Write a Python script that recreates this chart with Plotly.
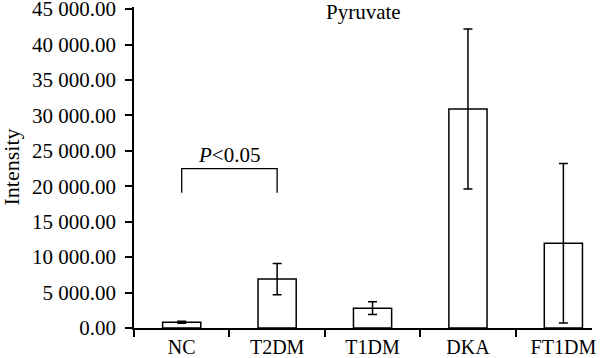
import plotly.graph_objects as go

categories = ["NC", "T2DM", "T1DM", "DKA", "FT1DM"]
means = [820, 6900, 2800, 30900, 11950]
errors = [150, 2200, 900, 11300, 11250]
y_ticks = [0, 5000, 10000, 15000, 20000, 25000, 30000, 35000, 40000, 45000]
y_tick_labels = ["0.00", "5 000.00", "10 000.00", "15 000.00", "20 000.00",
                 "25 000.00", "30 000.00", "35 000.00", "40 000.00", "45 000.00"]
sig_pair = ["NC", "T2DM"]
sig_top = 22500
sig_bottom = 19100

FONT = "Times New Roman, Liberation Serif, serif"

fig = go.Figure()
fig.add_trace(go.Bar(
    x=categories, y=means,
    width=0.4,
    marker=dict(color="white", line=dict(color="black", width=1.5)),
    error_y=dict(type="data", array=errors, visible=True, color="black",
                 thickness=1.5, width=4.5),
    showlegend=False,
))

# significance bracket
fig.add_trace(go.Scatter(
    x=[sig_pair[0], sig_pair[0], sig_pair[1], sig_pair[1]],
    y=[sig_bottom, sig_top, sig_top, sig_bottom],
    mode="lines", line=dict(color="black", width=1.3),
    showlegend=False, hoverinfo="skip",
))

fig.add_annotation(x=0.5, y=sig_top, xref="x", yref="y", text="<i>P</i>&lt;0.05",
                   showarrow=False, yanchor="bottom", yshift=0,
                   font=dict(family=FONT, size=21, color="black"))

fig.add_annotation(x=(363 - 134) / 458, y=1, xref="paper", yref="paper", text="Pyruvate",
                   showarrow=False, yanchor="middle", yshift=-5,
                   font=dict(family=FONT, size=21, color="black"))

fig.add_annotation(x=(11 - 134) / 458, y=0.5, xref="paper", yref="paper", text="Intensity",
                   showarrow=False, textangle=-90, xanchor="center", yanchor="middle",
                   font=dict(family=FONT, size=22, color="black"))

fig.update_layout(
    width=600, height=358,
    margin=dict(l=134, r=8, t=7, b=30, autoexpand=False),
    paper_bgcolor="white", plot_bgcolor="white",
    font=dict(family=FONT, size=21, color="black"),
)
fig.update_xaxes(
    type="category", range=[-0.5, 4.3], automargin=False,
    showline=True, linecolor="black", linewidth=1.5,
    ticks="outside", tickson="boundaries", ticklen=7, tickwidth=1.5, tickcolor="black",
    showgrid=False, zeroline=False,
    tickfont=dict(family=FONT, size=20, color="black"),
    ticklabelstandoff=0, ticklabeloverflow="allow",
)
fig.update_yaxes(
    range=[0, 45300], tickvals=y_ticks, ticktext=y_tick_labels, automargin=False,
    showline=True, linecolor="black", linewidth=1.5,
    ticks="outside", ticklen=7, tickwidth=1.5, tickcolor="black",
    showgrid=False, zeroline=False,
    tickfont=dict(family=FONT, size=21, color="black"),
    ticklabelstandoff=5, ticklabeloverflow="allow",
)

fig.write_html("out.html")
